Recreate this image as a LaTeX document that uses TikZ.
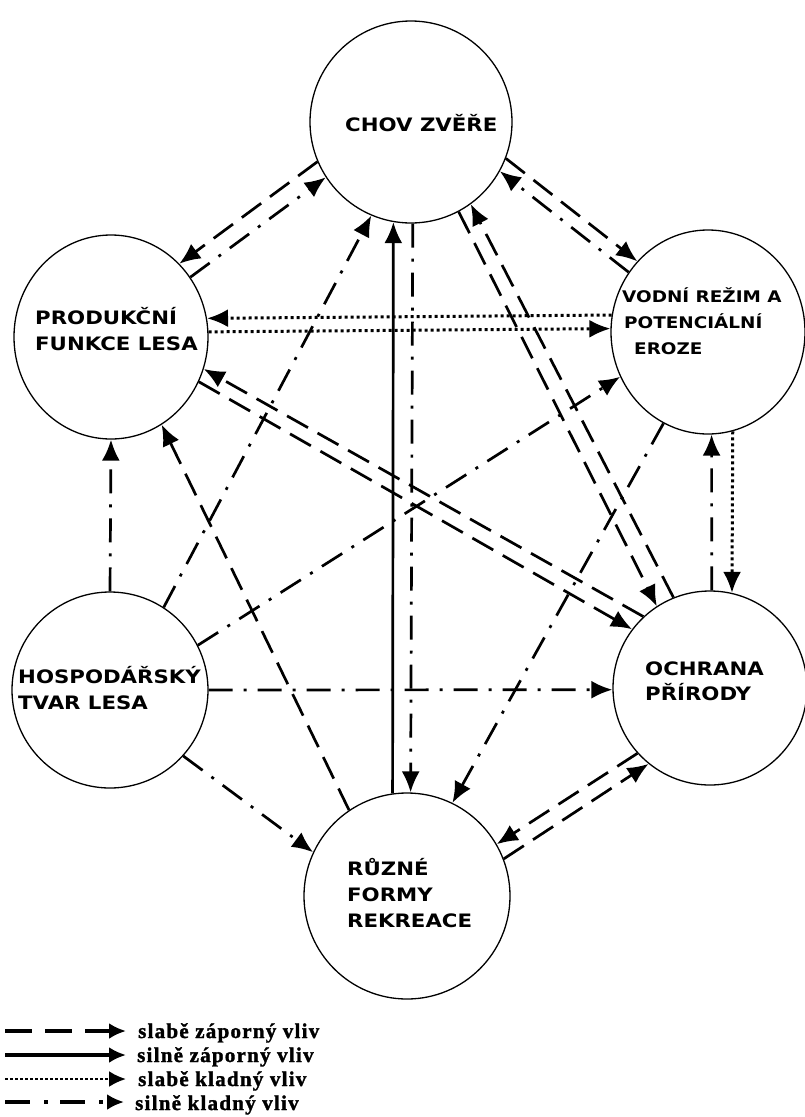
\documentclass[tikz,border=0pt]{standalone}
\usepackage{fontspec}
\usetikzlibrary{arrows.meta,shapes.geometric}
\newfontfamily\nodefont{DejaVu Sans}[FakeStretch=1.15]
\newfontfamily\legfont{Liberation Serif Bold}[LetterSpace=6,FakeBold=1.5]
\begin{document}
\begin{tikzpicture}[x=1pt,y=-1pt,
  circ/.style={draw, ellipse, line width=1.3pt, inner sep=0pt},
  lab/.style={font=\nodefont\bfseries\fontsize{18.5pt}{22pt}\selectfont, inner sep=0pt, anchor=base west},
  labs/.style={font=\nodefont\bfseries\fontsize{16pt}{19pt}\selectfont, inner sep=0pt, anchor=base west},
  leg/.style={font=\legfont\fontsize{21pt}{24pt}\selectfont, inner sep=0pt, anchor=base west},
  arr/.style={-{Latex[length=21pt,width=18pt]}},
  weakneg/.style={line width=2.7pt, dash pattern=on 24pt off 11pt, arr},
  strongneg/.style={line width=2.7pt, arr},
  weakpos/.style={line width=3pt, dash pattern=on 3pt off 3pt, arr},
  strongpos/.style={line width=2.7pt, dash pattern=on 24pt off 11pt on 3pt off 11pt, arr},
  legarr/.style={-{Latex[length=17pt,width=16pt]}, line width=3.8pt}
]
\useasboundingbox[fill=white] (0,0) rectangle (805,1117);

% circles
\node[circ, minimum width=202pt, minimum height=202pt] (chov) at (411,122) {};
\node[circ, minimum width=194pt, minimum height=204pt] (prod) at (111,337) {};
\node[circ, minimum width=194pt, minimum height=204pt] (vod) at (708,332) {};
\node[circ, minimum width=196pt, minimum height=196pt] (hosp) at (110,690) {};
\node[circ, minimum width=194pt, minimum height=194pt] (ochr) at (710,688) {};
\node[circ, minimum width=206pt, minimum height=206pt] (rekr) at (407,896) {};

% labels
\node[lab] (t1) at (345,131) {CHOV ZVĚŘE};
\node[lab] (p1) at (35,324) {PRODUKČNÍ};
\node[lab] (p2) at (35,350) {FUNKCE LESA};
\node[labs] (v1) at (622,302) {VODNÍ REŽIM A};
\node[labs] (v2) at (624,328) {POTENCIÁLNÍ};
\node[labs] (v3) at (634,354) {EROZE};
\node[lab] (h1) at (18,683) {HOSPODÁŘSKÝ};
\node[lab] (h2) at (18,709) {TVAR LESA};
\node[lab] (o1) at (645,675) {OCHRANA};
\node[lab] (o2) at (645,700) {PŘÍRODY};
\node[lab] (r1) at (347,875) {RŮZNÉ};
\node[lab] (r2) at (347,901) {FORMY};
\node[lab] (r3) at (347,927) {REKREACE};

% connectors
\draw[weakneg] (chov.203) -- (prod.47);
\draw[strongpos] (prod.37) -- (chov.213);
\draw[weakneg] (chov.339) -- (vod.135);
\draw[strongpos] (vod.143) -- (chov.331);
\draw[weakpos] (vod.170) -- (prod.11);
\draw[weakpos] (prod.3) -- (vod.178);
\draw[weakneg] (ochr.133) -- (prod.341);
\draw[weakneg] (prod.333) -- (ochr.143);
\draw[weakneg] (chov.298) -- (ochr.123);
\draw[weakneg] (ochr.112) -- (chov.306);
\draw[strongneg] (rekr.98) -- (chov.260);
\draw[strongpos] (chov.271) -- (rekr.88);
\draw[strongpos] (hosp.57) -- (chov.247);
\draw[strongpos] (hosp.90) -- (prod.270);
\draw[strongpos] (hosp.27) -- (vod.207);
\draw[strongpos] (hosp.0) -- (ochr.181);
\draw[strongpos] (hosp.318) -- (rekr.155);
\draw[weakneg] (rekr.124) -- (prod.300);
\draw[strongpos] (vod.244) -- (rekr.64);
\draw[weakneg] (ochr.222) -- (rekr.30);
\draw[weakneg] (rekr.21) -- (ochr.231);
\draw[strongpos] (ochr.89) -- (vod.272);
\draw[weakpos] (vod.284) -- (ochr.77);

% legend
\coordinate (l1a) at (5,1031); \coordinate (l1b) at (126,1031);
\coordinate (l2a) at (5,1055); \coordinate (l2b) at (126,1055);
\coordinate (l3a) at (5,1079); \coordinate (l3b) at (126,1079);
\coordinate (l4a) at (5,1102); \coordinate (l4b) at (124,1102);
\draw[legarr, dash pattern=on 27pt off 13pt] (l1a) -- (l1b);
\draw[legarr] (l2a) -- (l2b);
\draw[legarr, line width=2.6pt, dash pattern=on 2.5pt off 2.5pt] (l3a) -- (l3b);
\draw[legarr, dash pattern=on 25pt off 14pt on 4pt off 12pt] (l4a) -- (l4b);
\node[leg] (lt1) at (138,1038) {slabě záporný vliv};
\node[leg] (lt2) at (137,1062) {silně záporný vliv};
\node[leg] (lt3) at (138,1086) {slabě kladný vliv};
\node[leg] (lt4) at (135,1110) {silně kladný vliv};
\end{tikzpicture}
\end{document}
